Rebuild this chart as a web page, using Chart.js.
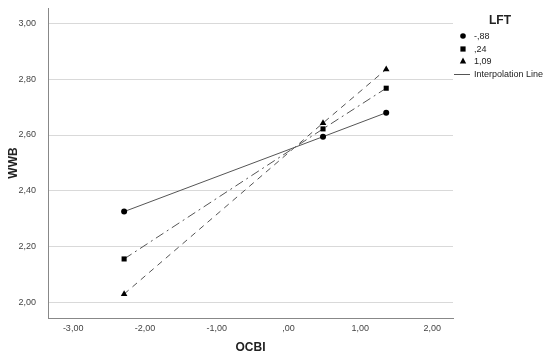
<!DOCTYPE html>
<html>
<head>
<meta charset="utf-8">
<script src="https://cdn.jsdelivr.net/npm/chart.js@4/dist/chart.umd.min.js"></script>
<style>
  html, body { margin: 0; padding: 0; background: #fff; }
  #wrap { position: relative; width: 550px; height: 360px; font-family: "Liberation Sans", Arial, sans-serif; }
  #c { position: absolute; left: 0; top: 0; }
  #legend { position: absolute; left: 452px; top: 11px; width: 98px; color: #222; font-size: 9px; }
  #legend .title { font-weight: bold; font-size: 12px; text-align: center; width: 96px; height: 19px; line-height: 18px; }
  #legend .row { position: relative; height: 12.5px; line-height: 12.5px; }
  #legend .row span.t { position: absolute; left: 22px; top: 0; white-space: nowrap; }
  #legend svg { position: absolute; left: 6px; top: 1px; }
</style>
</head>
<body>
<div id="wrap">
  <canvas id="c" width="550" height="360"></canvas>
  <div id="legend"></div>
</div>
<script>
// ---- data ----
const legendTitle = 'LFT';
const lftLevels = ['-,88', ',24', '1,09'];
const ocbiX = [-2.29, 0.48, 1.36];
const wwbLow = [2.325, 2.594, 2.680];
const wwbMid = [2.155, 2.622, 2.768];
const wwbHigh = [2.029, 2.643, 2.836];
const xTicks = [-3, -2, -1, 0, 1, 2];
const yTicks = [2.0, 2.2, 2.4, 2.6, 2.8, 3.0];
const xTitle = 'OCBI';
const yTitle = 'WWB';
const lineLegend = 'Interpolation Line';

function fmt(v) {
  let s = Math.abs(v).toFixed(2).replace('.', ',');
  if (s.startsWith('0')) s = s.slice(1);
  return (v < -1e-9 ? '-' : '') + s;
}
function pts(ys) { return ocbiX.map((x, i) => ({ x: x, y: ys[i] })); }

const lineColor = '#555555';
const series = [
  { label: lftLevels[0], data: pts(wwbLow), pointStyle: 'circle', pointRadius: 3, borderDash: [] },
  { label: lftLevels[1], data: pts(wwbMid), pointStyle: 'rect', pointRadius: 3.6, borderDash: [9, 4, 2, 4] },
  { label: lftLevels[2], data: pts(wwbHigh), pointStyle: 'triangle', pointRadius: 3.8, borderDash: [6, 5] }
];

new Chart(document.getElementById('c'), {
  type: 'scatter',
  data: {
    datasets: series.map(s => ({
      label: s.label,
      data: s.data,
      showLine: true,
      borderColor: lineColor,
      borderWidth: 1,
      borderDash: s.borderDash,
      pointStyle: s.pointStyle,
      pointRadius: s.pointRadius,
      pointHoverRadius: s.pointRadius,
      pointBackgroundColor: '#000',
      pointBorderColor: '#000',
      pointBorderWidth: 0,
      tension: 0
    }))
  },
  options: {
    responsive: false,
    animation: false,
    events: [],
    layout: { padding: { left: 0, right: 97, top: 8, bottom: 0 } },
    plugins: { legend: { display: false }, tooltip: { enabled: false } },
    scales: {
      x: {
        type: 'linear',
        min: -3.35,
        max: 2.29,
        afterBuildTicks: (sc) => { sc.ticks = xTicks.map(v => ({ value: v })); },
        afterFit: (sc) => { sc.height = 42; sc.paddingLeft = 0; sc.paddingRight = 0; },
        grid: { display: false, drawTicks: false },
        border: { display: true, color: '#888', width: 1 },
        ticks: {
          padding: 5,
          color: '#444',
          font: { family: '"Liberation Sans", Arial, sans-serif', size: 9 },
          callback: (v) => fmt(v),
          maxRotation: 0,
          autoSkip: false
        },
        title: {
          display: true,
          text: xTitle,
          color: '#222',
          font: { family: '"Liberation Sans", Arial, sans-serif', size: 12, weight: 'bold' },
          padding: { top: 0, bottom: 5 }
        }
      },
      y: {
        type: 'linear',
        min: 1.943,
        max: 3.056,
        afterBuildTicks: (sc) => { sc.ticks = yTicks.map(v => ({ value: v })); },
        afterFit: (sc) => { sc.width = 48; sc.paddingTop = 0; sc.paddingBottom = 0; },
        grid: { display: true, color: '#d9d9d9', lineWidth: 1, drawTicks: false },
        border: { display: true, color: '#888', width: 1 },
        ticks: {
          padding: 12,
          color: '#444',
          font: { family: '"Liberation Sans", Arial, sans-serif', size: 9 },
          callback: (v) => fmt(v),
          autoSkip: false
        },
        title: {
          display: true,
          text: yTitle,
          color: '#222',
          font: { family: '"Liberation Sans", Arial, sans-serif', size: 12, weight: 'bold' },
          padding: { top: 6, bottom: 0 }
        }
      }
    }
  }
});

// ---- HTML legend ----
const lg = document.getElementById('legend');
const t = document.createElement('div');
t.className = 'title'; t.textContent = legendTitle; lg.appendChild(t);
const shapes = [
  '<circle cx="5" cy="5" r="2.8" fill="#000"/>',
  '<rect x="2.4" y="2.4" width="5.2" height="5.2" fill="#000"/>',
  '<polygon points="5,1.6 8.2,7.4 1.8,7.4" fill="#000"/>'
];
lftLevels.forEach((lab, i) => {
  const r = document.createElement('div'); r.className = 'row';
  r.innerHTML = '<svg width="10" height="10">' + shapes[i] + '</svg><span class="t">' + lab + '</span>';
  lg.appendChild(r);
});
const r = document.createElement('div'); r.className = 'row';
r.innerHTML = '<svg width="18" height="10" style="left:2px"><line x1="0" y1="5.5" x2="16" y2="5.5" stroke="#555" stroke-width="1"/></svg><span class="t">' + lineLegend + '</span>';
lg.appendChild(r);
</script>
</body>
</html>
